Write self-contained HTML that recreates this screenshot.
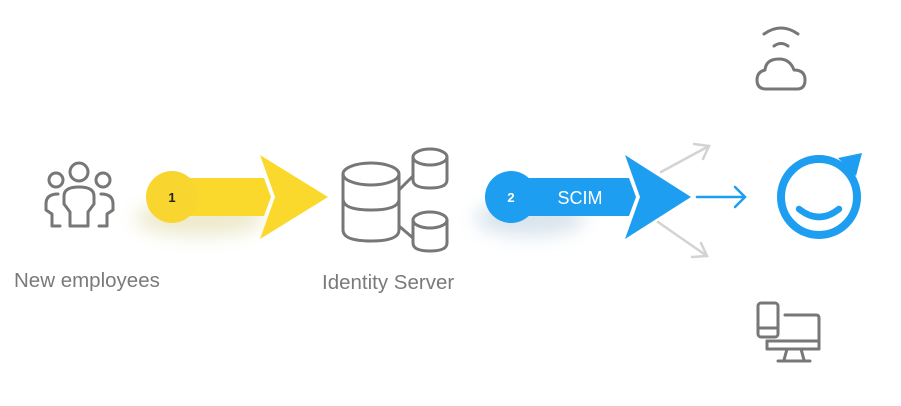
<!DOCTYPE html>
<html><head><style>
html,body{margin:0;padding:0;background:#fff;}
body{width:901px;height:406px;overflow:hidden;position:relative;font-family:"Liberation Sans",sans-serif;}
.lbl{position:absolute;color:#7a7a7a;font-size:20.5px;}
</style></head><body>
<svg width="901" height="406" style="position:absolute;left:0;top:0">
<defs>
<filter id="sh" x="-50%" y="-50%" width="200%" height="200%"><feGaussianBlur stdDeviation="9"/></filter>
</defs>
<g fill="none" stroke="#777" stroke-width="3" stroke-linecap="round" stroke-linejoin="round">
<circle cx="79" cy="172" r="9"/>
<circle cx="56" cy="180" r="7"/>
<circle cx="103" cy="180" r="7"/>
<path d="M70 226 V212 L64 204 V196 Q64 187 79 187 Q94 187 94 196 V204 L88 212 V226 Z"/>
<path d="M58 194 Q46 194 46 204 V210 L52 214 V226 H60"/>
<path d="M101 194 Q113 194 113 204 V210 L107 214 V226 H99"/>
<ellipse cx="371" cy="174" rx="28" ry="11"/>
<path d="M343 174 V230 Q343 241 371 241 Q399 241 399 230 V174"/>
<path d="M343 199 Q343 210 371 210 Q399 210 399 199"/>
<ellipse cx="430" cy="157" rx="17" ry="8"/>
<path d="M413 157 V180 Q413 188 430 188 Q447 188 447 180 V157"/>
<ellipse cx="430" cy="220" rx="17" ry="8"/>
<path d="M413 220 V243 Q413 251 430 251 Q447 251 447 243 V220"/>
<path d="M399 190 L413 176"/>
<path d="M399 226 L413 238"/>
<path d="M764 34 Q781 22 798 34"/>
<path d="M774 46 Q781 41 788 46"/>
<path d="M766 89 H797 Q805 89 805 80 Q805 70 794 70 Q790 59 779 59 Q766 59 765 70 Q757 72 757 80 Q757 89 766 89 Z"/>
<rect x="758" y="303" width="20" height="34" rx="3"/>
<path d="M758 328 H778"/>
<path d="M785 315 H816 Q819 315 819 318 V349 H767 V341"/>
<path d="M767 341 H819"/>
<path d="M787 349 L784 360 M801 349 L804 360 M778 361 H810"/>
</g>
<ellipse cx="200" cy="218" rx="65" ry="18" fill="#d8d090" opacity="0.45" filter="url(#sh)"/>
<rect x="172" y="178" width="92" height="38" fill="#fbd92c"/>
<path d="M264 178 L271 197 L264 216 Z" fill="#fbd92c"/>
<circle cx="172" cy="197" r="26" fill="#f9d530"/>
<path d="M260 155 L328 197 L260 239 L275 197 Z" fill="#fbd92c"/>
<text x="172" y="202" font-family="Liberation Sans" font-weight="bold" font-size="13" fill="#222" text-anchor="middle">1</text>
<ellipse cx="530" cy="218" rx="55" ry="18" fill="#a0bcd2" opacity="0.4" filter="url(#sh)"/>
<rect x="511" y="178" width="118" height="38" fill="#1e9ef0"/>
<path d="M629 178 L636 197 L629 216 Z" fill="#1e9ef0"/>
<circle cx="511" cy="197" r="26" fill="#1e9ef0"/>
<path d="M625 155 L691 197 L625 239 L640 197 Z" fill="#1e9ef0"/>
<text x="511" y="202" font-family="Liberation Sans" font-weight="bold" font-size="13" fill="#fff" text-anchor="middle">2</text>
<text x="580" y="204" font-family="Liberation Sans" font-size="18" fill="#fff" text-anchor="middle">SCIM</text>
<g fill="none" stroke="#d3d3d3" stroke-width="2.5" stroke-linecap="round">
<path d="M661 172 L709 146 M694 144 L709 146 L703 159"/>
<path d="M658 222 L707 256 M701 243 L707 256 L692 257"/>
</g>
<g fill="none" stroke="#1e9ef0" stroke-width="2.5" stroke-linecap="round">
<path d="M697 197 H745 M735 187 L745 197 L735 207"/>
</g>
<circle cx="819" cy="197" r="38" fill="none" stroke="#1e9ef0" stroke-width="8"/>
<path d="M838 158 L862 153 L856 176 Z" fill="#1e9ef0"/>
<path d="M799 209 Q819 225 839 209" fill="none" stroke="#1e9ef0" stroke-width="6.5" stroke-linecap="round"/>
</svg>
<div class="lbl" style="left:14px;top:269px">New employees</div>
<div class="lbl" style="left:322px;top:271px">Identity Server</div>
</body></html>
